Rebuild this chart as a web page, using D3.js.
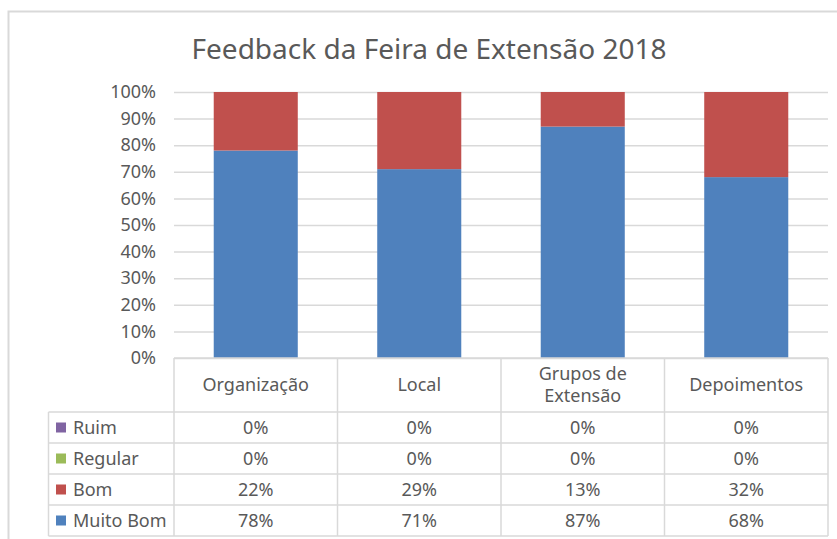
<!DOCTYPE html>
<html>
<head>
<meta charset="utf-8">
<script src="https://cdn.jsdelivr.net/npm/d3@7"></script>
<style>
  html, body { margin: 0; padding: 0; background: #fff; }
  svg { display: block; font-family: "Noto Sans", "Open Sans", sans-serif; }
</style>
</head>
<body>
<svg id="chart" width="837" height="539"></svg>
<script>
const title = "Feedback da Feira de Extensão 2018";
const categories = ["Organização", "Local", "Grupos de\nExtensão", "Depoimentos"];
const seriesNames = ["Muito Bom", "Bom", "Regular", "Ruim"];
const muitoBom = [0.78, 0.71, 0.87, 0.68];
const bom = [0.22, 0.29, 0.13, 0.32];
const regular = [0, 0, 0, 0];
const ruim = [0, 0, 0, 0];
const seriesColors = ["#4F81BD", "#C0504D", "#9BBB59", "#8064A2"];
const yTicks = [0, 0.1, 0.2, 0.3, 0.4, 0.5, 0.6, 0.7, 0.8, 0.9, 1.0];
const tableOrder = ["Ruim", "Regular", "Bom", "Muito Bom"];

const svg = d3.select("#chart");
const textColor = "#595959";
const lineColor = "#d9d9d9";
const fs = 18;

// chart frame
svg.append("rect").attr("x", 8.5).attr("y", 11.5).attr("width", 845).attr("height", 540)
  .attr("fill", "#fff").attr("stroke", lineColor).attr("stroke-width", 2);

svg.append("text").attr("x", 429).attr("y", 59).attr("text-anchor", "middle")
  .attr("font-size", 28).attr("fill", textColor).text(title);

const plot = { left: 174, right: 828, top: 92, bottom: 358 };
const legendLeft = 48.5;

const x = d3.scaleBand().domain(categories).range([plot.left, plot.right]).padding(0);
const xBar = d3.scaleBand().domain(categories).range([plot.left, plot.right])
  .paddingInner(0.486).paddingOuter(0.243);
const y = d3.scaleLinear().domain([0, 1]).range([plot.bottom, plot.top]);

// gridlines
const grid = svg.append("g").attr("transform", `translate(${plot.left},0)`)
  .call(d3.axisLeft(y).tickValues(yTicks).tickSize(-(plot.right - plot.left)).tickFormat(""));
grid.select(".domain").remove();
grid.selectAll("line").attr("stroke", lineColor).attr("stroke-width", 1.5);

// y axis labels
const yAxis = svg.append("g").attr("transform", `translate(${plot.left},0)`)
  .call(d3.axisLeft(y).tickValues(yTicks).tickSize(0).tickPadding(18).tickFormat(d3.format(".0%")));
yAxis.select(".domain").remove();
yAxis.selectAll("text").attr("font-size", fs).attr("fill", textColor)
  .attr("font-family", "Noto Sans, Open Sans, sans-serif");

// stacked bars
const valuesByName = { "Muito Bom": muitoBom, "Bom": bom, "Regular": regular, "Ruim": ruim };
const rows = categories.map((c, i) => {
  const o = { cat: c };
  seriesNames.forEach(n => o[n] = valuesByName[n][i]);
  return o;
});
const stack = d3.stack().keys(seriesNames)(rows);
const color = d3.scaleOrdinal().domain(seriesNames).range(seriesColors);

svg.append("g").selectAll("g").data(stack).join("g").attr("fill", d => color(d.key))
  .selectAll("rect").data(d => d).join("rect")
  .attr("x", d => xBar(d.data.cat))
  .attr("width", xBar.bandwidth())
  .attr("y", d => y(d[1]))
  .attr("height", d => y(d[0]) - y(d[1]));

// data table
const headerBottom = 412;
const rowH = 31;
const tableBottom = headerBottom + rowH * tableOrder.length;
const t = svg.append("g").attr("stroke", lineColor).attr("stroke-width", 1.5);
t.append("line").attr("x1", plot.left).attr("x2", plot.right).attr("y1", plot.bottom).attr("y2", plot.bottom);
const colEdges = categories.map(c => x(c)).concat([plot.right]);
colEdges.forEach(xx => t.append("line").attr("x1", xx).attr("x2", xx).attr("y1", plot.bottom).attr("y2", tableBottom));
t.append("line").attr("x1", legendLeft).attr("x2", legendLeft).attr("y1", headerBottom).attr("y2", tableBottom);
d3.range(tableOrder.length + 1).forEach(i => {
  const yy = headerBottom + i * rowH;
  t.append("line").attr("x1", legendLeft).attr("x2", plot.right).attr("y1", yy).attr("y2", yy);
});

// header texts
categories.forEach(c => {
  const lines = c.split("\n");
  const cx = x(c) + x.bandwidth() / 2;
  const cy = (plot.bottom + headerBottom) / 2;
  const lh = 22;
  lines.forEach((ln, j) => {
    svg.append("text").attr("x", cx)
      .attr("y", cy + (j - (lines.length - 1) / 2) * lh)
      .attr("dy", "0.36em").attr("text-anchor", "middle")
      .attr("font-size", fs).attr("fill", textColor).text(ln);
  });
});

// rows
tableOrder.forEach((name, r) => {
  const cy = headerBottom + r * rowH + rowH / 2;
  svg.append("rect").attr("x", 56).attr("y", cy - 5).attr("width", 10).attr("height", 10)
    .attr("fill", color(name));
  svg.append("text").attr("x", 73).attr("y", cy).attr("dy", "0.36em")
    .attr("font-size", fs).attr("fill", textColor).text(name);
  categories.forEach((c, i) => {
    svg.append("text").attr("x", x(c) + x.bandwidth() / 2).attr("y", cy).attr("dy", "0.36em")
      .attr("text-anchor", "middle").attr("font-size", fs).attr("fill", textColor)
      .text(d3.format(".0%")(valuesByName[name][i]));
  });
});
</script>
</body>
</html>
